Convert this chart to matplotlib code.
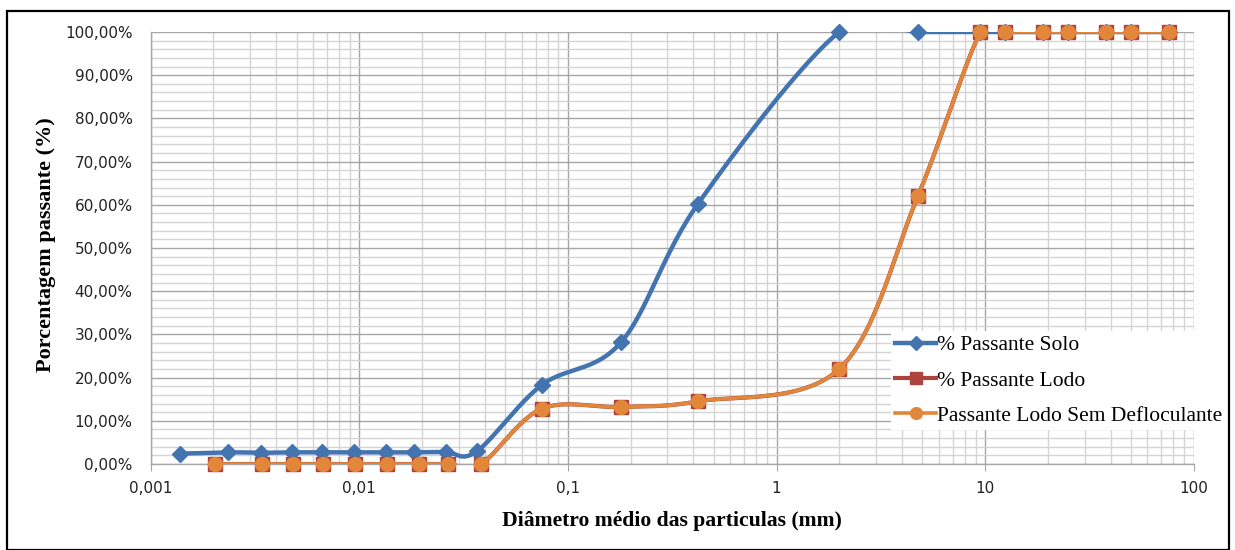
import numpy as np
import matplotlib
matplotlib.use("Agg")
import matplotlib.pyplot as plt
from matplotlib.lines import Line2D
from matplotlib.patches import Rectangle
from matplotlib.ticker import FixedLocator, FuncFormatter, NullFormatter

# ---------------- data ----------------
solo_d = [0.00138, 0.00236, 0.00338, 0.00474, 0.00665, 0.00943, 0.01339,
          0.01829, 0.02596, 0.0365, 0.075, 0.18, 0.42, 2.0, 4.76,
          9.5, 12.5, 19.0, 25.0, 38.0, 50.0, 76.0]
solo_p = [0.024, 0.027, 0.026, 0.027, 0.027, 0.027, 0.027,
          0.027, 0.028, 0.029, 0.183, 0.282, 0.602, 1.0, 1.0,
          1.0, 1.0, 1.0, 1.0, 1.0, 1.0, 1.0]

lodo_d = [0.00203, 0.0034, 0.0048, 0.00672, 0.00957, 0.01362, 0.01926,
          0.02653, 0.0383, 0.075, 0.18, 0.42, 2.0, 4.76,
          9.5, 12.5, 19.0, 25.0, 38.0, 50.0, 76.0]
lodo_p = [0.0, 0.0, 0.0, 0.0, 0.0, 0.0, 0.0,
          0.0, 0.0, 0.128, 0.132, 0.145, 0.22, 0.62,
          1.0, 1.0, 1.0, 1.0, 1.0, 1.0, 1.0]

lodo_sd_d = list(lodo_d)
lodo_sd_p = list(lodo_p)

x_ticks = [0.001, 0.01, 0.1, 1, 10, 100]
x_tick_labels = ["0,001", "0,01", "0,1", "1", "10", "100"]
y_ticks = [i / 10 for i in range(11)]

labels = ["% Passante Solo", "% Passante Lodo", "Passante Lodo Sem Defloculante"]
colors = ["#4474B0", "#AE423F", "#E2873A"]

# ---------------- figure ----------------
W, H = 1235, 550
fig = plt.figure(figsize=(W / 100, H / 100), dpi=100)
L, R, T, B = 150.7, 1193.7, 32, 464
ax = fig.add_axes([L / W, 1 - B / H, (R - L) / W, (B - T) / H])
ax.set_xscale("log")
ax.set_xlim(0.001, 100)
ax.set_ylim(0, 1)

# grid
ax.set_axisbelow(True)
ax.xaxis.set_major_locator(FixedLocator(x_ticks))
ax.xaxis.set_minor_locator(FixedLocator(
    [m * 10.0 ** e for e in range(-3, 2) for m in range(2, 10)]))
ax.xaxis.set_minor_formatter(NullFormatter())
ax.yaxis.set_major_locator(FixedLocator(y_ticks))
ax.yaxis.set_minor_locator(FixedLocator([i / 50 for i in range(51)]))
ax.grid(which="major", color="#A6A6A6", lw=1.0)
ax.grid(which="minor", color="#D4D4D4", lw=1.0)

ax.set_xticks(x_ticks)
ax.set_xticklabels(x_tick_labels)
ax.yaxis.set_major_formatter(FuncFormatter(
    lambda v, p: ("%.2f%%" % (v * 100)).replace(".", ",")))

for s in ["top", "right"]:
    ax.spines[s].set_visible(False)
for s in ["left", "bottom"]:
    ax.spines[s].set_color("#A6A6A6")
    ax.spines[s].set_linewidth(1.0)

ax.tick_params(axis="x", which="major", length=5, color="#A6A6A6",
               labelsize=11, pad=7, labelcolor="#222222")
ax.tick_params(axis="x", which="minor", length=0)
ax.tick_params(axis="y", which="both", length=0, labelsize=11, pad=13,
               labelcolor="#222222")

serif = ["Liberation Serif", "DejaVu Serif"]
fig.text(672 / W, 1 - 521 / H, "Diâmetro médio das particulas (mm)",
         family=serif, weight="bold", fontsize=15.6, ha="center", va="center")
fig.text(46 / W, 1 - 245 / H, "Porcentagem passante (%)",
         family=serif, weight="bold", fontsize=16, ha="center", va="center",
         rotation=90)


def smooth(xs, ys, n=30):
    """Excel-like Bezier smoothing computed in display space."""
    pts = ax.transData.transform(np.column_stack([xs, ys]))
    out = []
    m = len(pts)
    for i in range(m - 1):
        p0 = pts[max(i - 1, 0)]
        p1 = pts[i]
        p2 = pts[i + 1]
        p3 = pts[min(i + 2, m - 1)]
        c1 = p1 + (p2 - p0) / 6.0
        c2 = p2 - (p3 - p1) / 6.0
        t = np.linspace(0, 1, n)[:, None]
        seg = ((1 - t) ** 3) * p1 + 3 * ((1 - t) ** 2) * t * c1 \
            + 3 * (1 - t) * t ** 2 * c2 + t ** 3 * p2
        out.append(seg if i == 0 else seg[1:])
    arr = np.vstack(out)
    data = ax.transData.inverted().transform(arr)
    return data[:, 0], data[:, 1]


series = [(solo_d, solo_p, "D", 7.8, 3.2),
          (lodo_d, lodo_p, "s", 9.5, 3.0),
          (lodo_sd_d, lodo_sd_p, "o", 10, 2.6)]
for k, (xs, ys, mk, ms, lw) in enumerate(series):
    sx, sy = smooth(xs, ys)
    ax.plot(sx, sy, color=colors[k], lw=lw, zorder=3 + k, solid_capstyle="round")
    ax.plot(xs, ys, ls="none", marker=mk, ms=ms, color=colors[k],
            markeredgecolor=colors[k], zorder=3 + k, clip_on=False)

handles = [Line2D([], [], color=colors[k], lw=series[k][4], marker=series[k][2],
                  ms=series[k][3] * 0.85) for k in range(3)]
leg = fig.legend(handles, labels, loc="upper left",
                 bbox_to_anchor=(891 / W, 1 - 331 / H),
                 prop={"family": serif, "size": 15.5},
                 frameon=True, fancybox=False, framealpha=1,
                 edgecolor="none", facecolor="white",
                 handlelength=1.9, handletextpad=0.05, labelspacing=0.7,
                 borderpad=0.2, borderaxespad=0)
leg.set_zorder(10)

border = Rectangle((7 / W, 0.5 / H), (1229 - 7) / W, (549.5 - 11) / H,
                   transform=fig.transFigure, fill=False,
                   edgecolor="black", lw=1.6, zorder=30)
fig.patches.append(border)

fig.savefig("out.png", dpi=100)
